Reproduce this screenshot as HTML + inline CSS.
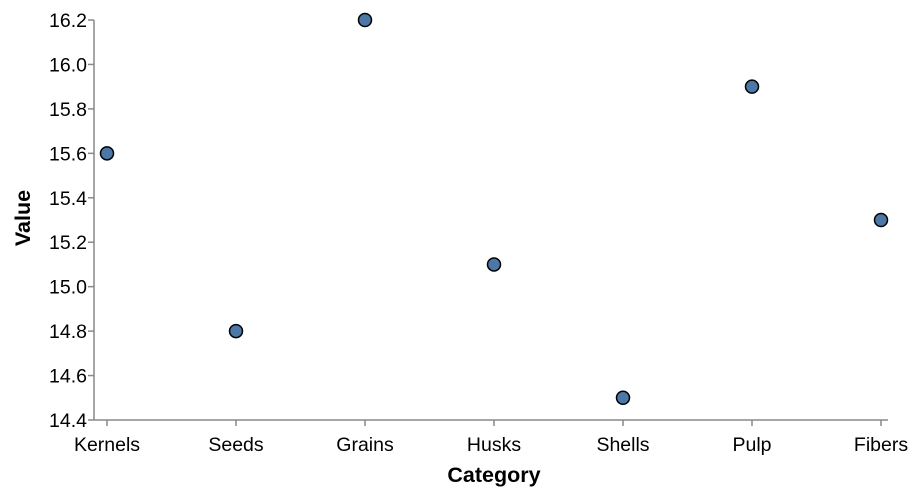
<!DOCTYPE html>
<html><head><meta charset="utf-8"><style>
body{margin:0;background:#fff}
svg{display:block;font-family:"Liberation Sans",Arial,sans-serif}
</style></head><body>
<svg id="chart" width="920" height="494"></svg>
<script>
const categories=["Kernels","Seeds","Grains","Husks","Shells","Pulp","Fibers"];
const values=[15.6,14.8,16.2,15.1,14.5,15.9,15.3];
const yTicks=[14.4,14.6,14.8,15.0,15.2,15.4,15.6,15.8,16.0,16.2];
const yTickLabels=["14.4","14.6","14.8","15.0","15.2","15.4","15.6","15.8","16.0","16.2"];
const NS="http://www.w3.org/2000/svg";
const svg=document.getElementById('chart');
const x0=107,step=129,yMin=14.4,yMax=16.2,yBot=420,yTop=20,axisX=94;
const xs=i=>x0+i*step;
const ys=v=>yBot-(v-yMin)/(yMax-yMin)*(yBot-yTop);
function mk(t,a,txt){const e=document.createElementNS(NS,t);for(const k in a)e.setAttribute(k,a[k]);if(txt!=null)e.textContent=txt;svg.appendChild(e);return e;}
let e;
e=mk('line',{x1:axisX,x2:axisX,y1:yTop,y2:yBot,stroke:'#888','stroke-width':1.5});


e=mk('line',{x1:axisX,x2:888,y1:yBot,y2:yBot,stroke:'#888','stroke-width':1.5});


yTicks.forEach((t,i)=>{
  const y=ys(t);
  e=mk('line',{x1:axisX-6,x2:axisX,y1:y,y2:y,stroke:'#888','stroke-width':1.5});
  
  
  e=mk('text',{x:axisX-7,y:y+7,'text-anchor':'end','font-size':19.5,fill:'#000'},yTickLabels[i]);
  
  
});
categories.forEach((c,i)=>{
  const x=xs(i);
  e=mk('line',{x1:x,x2:x,y1:yBot,y2:yBot+6,stroke:'#888','stroke-width':1.5});
  
  
  e=mk('text',{x:x,y:451,'text-anchor':'middle','font-size':19.5,fill:'#000'},c);
  
  
});
e=mk('text',{x:494,y:482,'text-anchor':'middle','font-size':21.5,'font-weight':'bold'},'Category');


e=mk('text',{x:0,y:0,'text-anchor':'middle','font-size':21.5,'font-weight':'bold',transform:'translate(30,218) rotate(-90)'},'Value');


values.forEach((v,i)=>{
  e=mk('circle',{cx:xs(i),cy:ys(v),r:6.5,fill:'#4c78a8',stroke:'#000','stroke-width':1.5});
  
  
});
</script>
</body></html>
